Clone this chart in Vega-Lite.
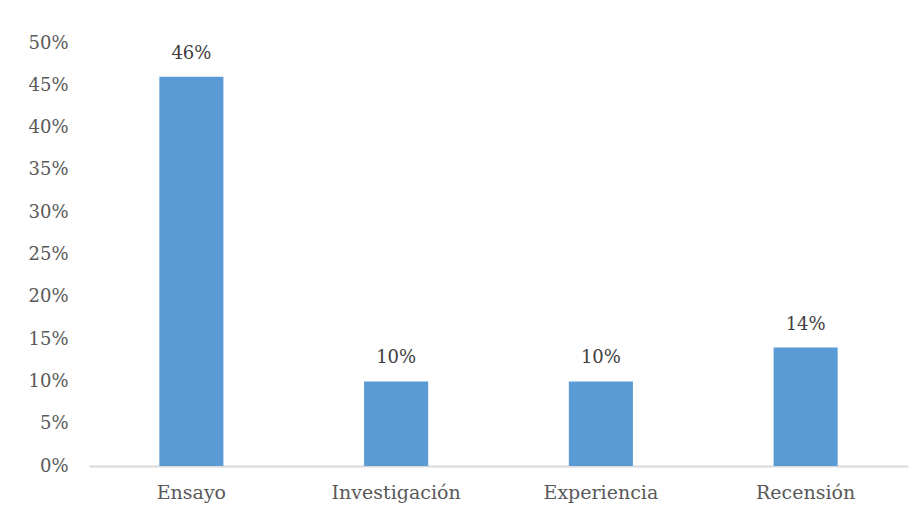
{
  "$schema": "https://vega.github.io/schema/vega-lite/v6.json",
  "autosize": "none",
  "width": 819,
  "height": 423,
  "padding": {"left": 89, "top": 43, "right": 12, "bottom": 49},
  "background": "white",
  "data": {"values": [
    {"tipo": "Ensayo", "valor": 0.46},
    {"tipo": "Investigación", "valor": 0.10},
    {"tipo": "Experiencia", "valor": 0.10},
    {"tipo": "Recensión", "valor": 0.14}
  ]},
  "encoding": {
    "x": {"field": "tipo", "type": "nominal", "sort": null,
      "scale": {"paddingInner": 0.687, "paddingOuter": 0.3435},
      "axis": {"title": null, "labelAngle": 0, "labelFont": "DejaVu Serif", "labelFontSize": 19, "labelColor": "#595959", "labelPadding": 17, "ticks": false, "domainColor": "#d9d9d9", "domainWidth": 2}},
    "y": {"field": "valor", "type": "quantitative",
      "scale": {"domain": [0, 0.5], "nice": false},
      "axis": {"title": null, "format": ".0%", "values": [0,0.05,0.1,0.15,0.2,0.25,0.3,0.35,0.4,0.45,0.5], "grid": false, "domain": false, "ticks": false, "labelFont": "DejaVu Serif", "labelFontSize": 18, "labelColor": "#595959", "labelPadding": 21}}
  },
  "layer": [
    {"mark": {"type": "bar", "color": "#5b9bd5"}},
    {"mark": {"type": "text", "baseline": "bottom", "dy": -14, "font": "DejaVu Serif", "fontSize": 18, "color": "#404040"},
      "encoding": {"text": {"field": "valor", "type": "quantitative", "format": ".0%"}}}
  ],
  "config": {"view": {"stroke": null}}
}
